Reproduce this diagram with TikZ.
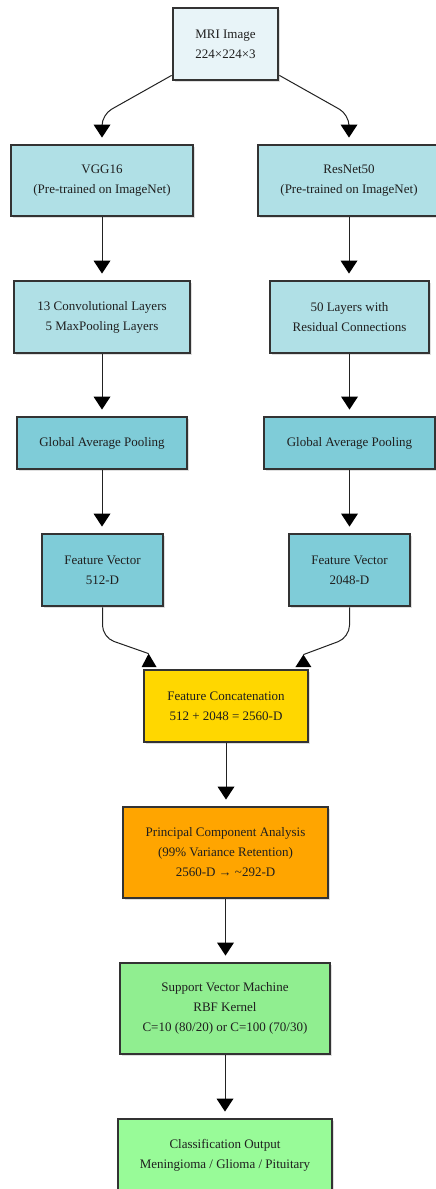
\documentclass[tikz,border=0pt]{standalone}
\usepackage{fontspec}
\setmainfont{Liberation Serif}
\usetikzlibrary{arrows.meta,shadows,calc}
\definecolor{edgec}{HTML}{333333}
\definecolor{linec}{HTML}{222222}
\definecolor{mric}{HTML}{E8F4F8}
\definecolor{lblue}{HTML}{B0E0E6}
\definecolor{mblue}{HTML}{7FCCD8}
\definecolor{goldc}{HTML}{FFD700}
\definecolor{orangec}{HTML}{FFA500}
\definecolor{svmc}{HTML}{90EE90}
\definecolor{clsc}{HTML}{98FB98}
\begin{document}
\begin{tikzpicture}[x=1pt,y=1pt,
  boxnode/.style={draw=edgec,line width=2.8pt,align=center,inner sep=0pt,
    font=\fontsize{13}{20}\selectfont,text=black!88,
    drop shadow={opacity=0.25,shadow xshift=1.5pt,shadow yshift=-1.5pt}},
  arr/.style={draw=linec,line width=1pt,-{Triangle[length=13pt,width=17pt,fill=black,line width=0pt]},shorten >=6pt},
  conn/.style={draw=linec,line width=1pt},
  headfill/.style={fill=black}]
\useasboundingbox (0,0) rectangle (436,-1189);
\fill[white] (0,0) rectangle (436,-1189);
% nodes
\node[boxnode,fill=mric,minimum width=105pt,minimum height=72pt] (mri) at (225.5,-44) {MRI Image\\224×224×3};
\node[boxnode,fill=lblue,minimum width=182pt,minimum height=71pt] (vgg) at (102,-180.5) {VGG16\\(Pre-trained on ImageNet)};
\node[boxnode,fill=lblue,minimum width=182pt,minimum height=71pt] (res) at (349,-180.5) {ResNet50\\(Pre-trained on ImageNet)};
\node[boxnode,fill=lblue,minimum width=176pt,minimum height=72pt] (conv) at (102,-317) {13 Convolutional Layers\\5 MaxPooling Layers};
\node[boxnode,fill=lblue,minimum width=159pt,minimum height=72pt] (resid) at (349.5,-317) {50 Layers with\\Residual Connections};
\node[boxnode,fill=mblue,minimum width=170pt,minimum height=52pt] (gap1) at (102,-443) {Global Average Pooling};
\node[boxnode,fill=mblue,minimum width=171pt,minimum height=52pt] (gap2) at (349.5,-443) {Global Average Pooling};
\node[boxnode,fill=mblue,minimum width=121pt,minimum height=72pt] (fv1) at (102.5,-570) {Feature Vector\\512-D};
\node[boxnode,fill=mblue,minimum width=121pt,minimum height=72pt] (fv2) at (349.5,-570) {Feature Vector\\2048-D};
\node[boxnode,fill=goldc,minimum width=164pt,minimum height=72pt] (concat) at (226,-706) {Feature Concatenation\\512 + 2048 = 2560-D};
\node[boxnode,fill=orangec,minimum width=205pt,minimum height=91pt] (pca) at (225.5,-852.5) {Principal Component Analysis\\(99\% Variance Retention)\\2560-D → \textasciitilde 292-D};
\node[boxnode,fill=svmc,minimum width=210pt,minimum height=91pt] (svm) at (225,-1008.5) {Support Vector Machine\\RBF Kernel\\C=10 (80/20) or C=100 (70/30)};
\node[boxnode,fill=clsc,minimum width=214pt,minimum height=72pt] (cls) at (225,-1155) {Classification Output\\Meningioma / Glioma / Pituitary};
% connectors from MRI
\draw[arr,rounded corners=11pt] ([yshift=6pt]mri.south west) -- ($(vgg.north)+(0,29)$) -- (vgg.north);
\draw[arr,rounded corners=11pt] ([yshift=6pt]mri.south east) -- ($(res.north)+(0,29)$) -- (res.north);
% vertical connectors
\draw[arr] (vgg.south) -- (vgg.south |- conv.north);
\draw[arr] (res.south) -- (res.south |- resid.north);
\draw[arr] (conv.south) -- (conv.south |- gap1.north);
\draw[arr] (resid.south) -- (resid.south |- gap2.north);
\draw[arr] (gap1.south) -- (gap1.south |- fv1.north);
\draw[arr] (gap2.south) -- (gap2.south |- fv2.north);
\draw[arr] (concat.south) -- (concat.south |- pca.north);
\draw[arr] (pca.south) -- (pca.south |- svm.north);
\draw[arr] (svm.south) -- (svm.south |- cls.north);
% connectors into concatenation
\coordinate (apexL) at ($(concat.north west)+(6,15)$);
\coordinate (apexR) at ($(concat.north east)+(-6,14)$);
\draw[conn,rounded corners=12pt] (fv1.south) -- ($(fv1.south)+(0,-30)$) -- (apexL);
\draw[conn,rounded corners=12pt] (fv2.south) -- ($(fv2.south)+(0,-30)$) -- (apexR);
\fill[headfill] (apexL) -- ($(concat.north west)+(-1,1.5)$) -- ($(concat.north west)+(14,1.5)$) -- cycle;
\fill[headfill] (apexR) -- ($(concat.north east)+(-14,1.5)$) -- ($(concat.north east)+(2,1.5)$) -- cycle;
\end{tikzpicture}
\end{document}
